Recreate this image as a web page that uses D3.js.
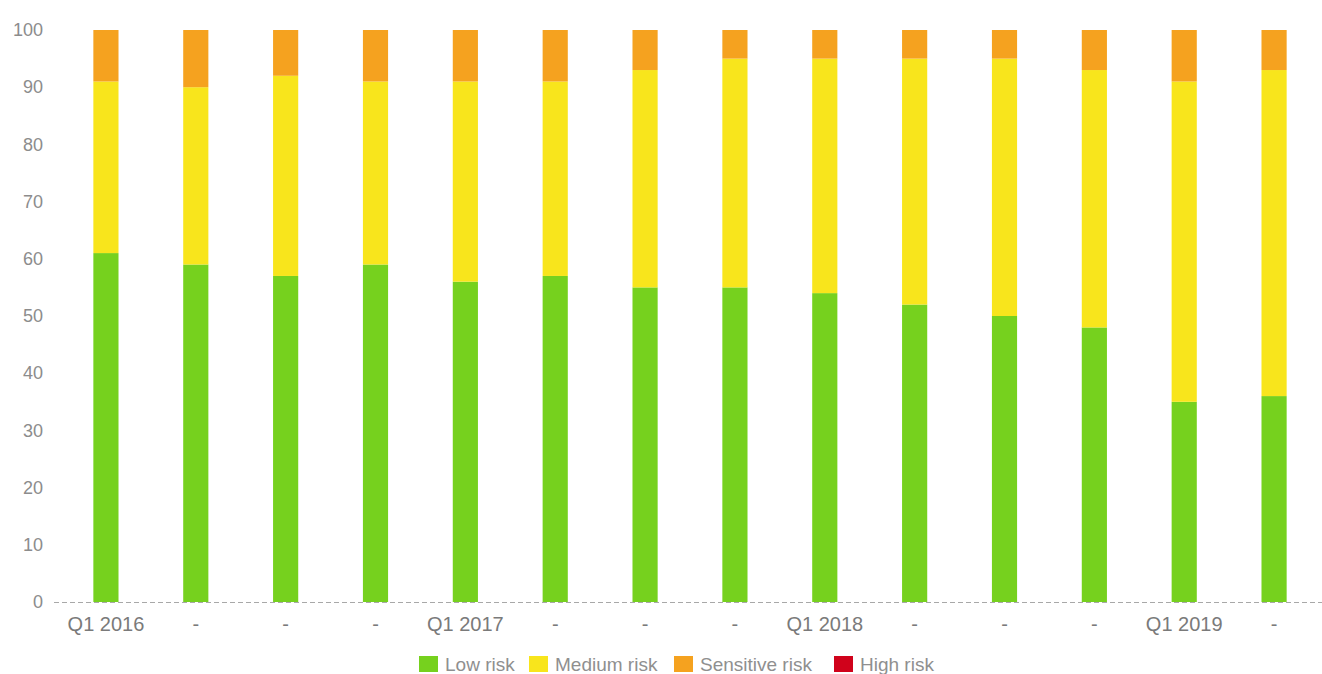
<!DOCTYPE html>
<html>
<head>
<meta charset="utf-8">
<script src="https://cdn.jsdelivr.net/npm/d3@7"></script>
<style>
  html, body { margin: 0; padding: 0; background: #fff; }
  svg { display: block; font-family: "Liberation Sans", Arial, sans-serif; }
</style>
</head>
<body>
<svg id="chart" width="1322" height="674"></svg>
<script>
// Quarterly risk distribution (percent of portfolio)
const quarters = ["Q1 2016", "Q2 2016", "Q3 2016", "Q4 2016",
                  "Q1 2017", "Q2 2017", "Q3 2017", "Q4 2017",
                  "Q1 2018", "Q2 2018", "Q3 2018", "Q4 2018",
                  "Q1 2019", "Q2 2019"];
const tickLabels = ["Q1 2016", "-", "-", "-", "Q1 2017", "-", "-", "-",
                    "Q1 2018", "-", "-", "-", "Q1 2019", "-"];
const lowRisk       = [61, 59, 57, 59, 56, 57, 55, 55, 54, 52, 50, 48, 35, 36];
const mediumRisk    = [30, 31, 35, 32, 35, 34, 38, 40, 41, 43, 45, 45, 56, 57];
const sensitiveRisk = [ 9, 10,  8,  9,  9,  9,  7,  5,  5,  5,  5,  7,  9,  7];
const highRisk      = [ 0,  0,  0,  0,  0,  0,  0,  0,  0,  0,  0,  0,  0,  0];
const seriesNames   = ["Low risk", "Medium risk", "Sensitive risk", "High risk"];
const seriesColors  = ["#76d11e", "#f8e51c", "#f5a21f", "#d0021b"];
const yTicks = [0, 10, 20, 30, 40, 50, 60, 70, 80, 90, 100];

const rows = quarters.map((q, i) => ({
  quarter: q,
  "Low risk": lowRisk[i],
  "Medium risk": mediumRisk[i],
  "Sensitive risk": sensitiveRisk[i],
  "High risk": highRisk[i]
}));

const svg = d3.select("#chart");
const margin = { top: 30, right: 3, bottom: 72, left: 61 };
const W = 1322, H = 674;

const x = d3.scaleBand()
  .domain(quarters)
  .range([margin.left, W - margin.right])
  .paddingInner(0.72)
  .paddingOuter(0.36);

const y = d3.scaleLinear()
  .domain([0, 100])
  .range([H - margin.bottom, margin.top]);

const stack = d3.stack().keys(seriesNames);
const layers = stack(rows);

// stacked bars
svg.append("g")
  .selectAll("g")
  .data(layers)
  .join("g")
  .attr("fill", (d, i) => seriesColors[i])
  .selectAll("rect")
  .data(d => d)
  .join("rect")
  .attr("x", d => x(d.data.quarter))
  .attr("y", d => y(d[1]))
  .attr("width", x.bandwidth())
  .attr("height", d => Math.max(0, y(d[0]) - y(d[1])));

// y axis labels
const yAxis = d3.axisLeft(y).tickValues(yTicks).tickSize(0).tickPadding(0);
svg.append("g")
  .attr("transform", `translate(43,0)`)
  .call(yAxis)
  .call(g => g.select(".domain").remove())
  .call(g => g.selectAll("text")
    .attr("fill", "#8c8c8c")
    .attr("font-size", 18)
    .attr("font-family", "Liberation Sans, Arial, sans-serif"));

// dashed baseline
svg.append("line")
  .attr("x1", 54).attr("x2", W)
  .attr("y1", y(0) + 0.5).attr("y2", y(0) + 0.5)
  .attr("stroke", "#a8a8a8")
  .attr("stroke-width", 1)
  .attr("stroke-dasharray", "5,3");

// x axis labels
const xAxis = d3.axisBottom(x).tickSize(0).tickPadding(0)
  .tickFormat((d, i) => tickLabels[i]);
svg.append("g")
  .attr("transform", `translate(0,631)`)
  .call(xAxis)
  .call(g => g.select(".domain").remove())
  .call(g => g.selectAll("text")
    .attr("y", 0)
    .attr("dy", null)
    .attr("fill", "#7a7a7a")
    .attr("font-size", 20)
    .attr("font-family", "Liberation Sans, Arial, sans-serif"));

// legend
const legendX = [419, 529, 674, 834];
const legend = svg.append("g").attr("transform", "translate(0,656)");
seriesNames.forEach((name, i) => {
  legend.append("rect")
    .attr("x", legendX[i]).attr("y", 0)
    .attr("width", 19).attr("height", 16)
    .attr("fill", seriesColors[i]);
  legend.append("text")
    .attr("x", legendX[i] + 26).attr("y", 15)
    .attr("fill", "#8f8f8f")
    .attr("font-size", 19)
    .text(name);
});
</script>
</body>
</html>
